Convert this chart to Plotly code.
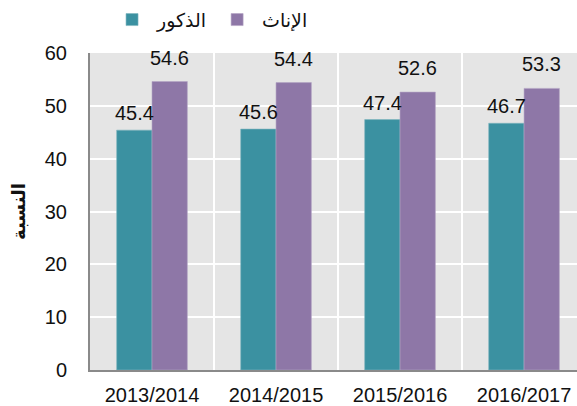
import plotly.graph_objects as go

categories = ["2013/2014", "2014/2015", "2015/2016", "2016/2017"]
males = [45.4, 45.6, 47.4, 46.7]
females = [54.6, 54.4, 52.6, 53.3]
male_name = "الذكور"
female_name = "الإناث"
y_title = "النسبة"
y_ticks = [0, 10, 20, 30, 40, 50, 60]

teal = "#3b91a1"
purple = "#8e77a7"
font_family = "Liberation Sans, Arial, DejaVu Sans, sans-serif"

fig = go.Figure()
fig.add_trace(go.Bar(x=categories, y=males, name=male_name, marker=dict(color=teal, line=dict(width=0.6, color="#7fb6c0"))))
fig.add_trace(go.Bar(x=categories, y=females, name=female_name, marker=dict(color=purple, line=dict(width=0.6, color="#b3a5c4"))))

# value labels
for cat, v in zip(categories, males):
    fig.add_annotation(x=cat, y=v, text=f"{v:.1f}", showarrow=False, xanchor="center", yanchor="bottom",
                       xshift=-17.5, yshift=4, font=dict(size=20, color="#111111", family=font_family))
for cat, v in zip(categories, females):
    fig.add_annotation(x=cat, y=v, text=f"{v:.1f}", showarrow=False, xanchor="center", yanchor="bottom",
                       xshift=17.5, yshift=11, font=dict(size=20, color="#111111", family=font_family))

fig.update_layout(
    width=577, height=406,
    margin=dict(l=90, r=0, t=53, b=36, autoexpand=False),
    barmode="group", bargap=0.43, bargroupgap=0,
    plot_bgcolor="#e5e5e5", paper_bgcolor="white",
    font=dict(family=font_family, size=20, color="#111111"),
    showlegend=True,
    legend=dict(orientation="h", x=0.035, xanchor="left", y=1.105, yanchor="middle",
                font=dict(size=19), bgcolor="rgba(0,0,0,0)", traceorder="normal",
                itemwidth=40),
)
fig.update_xaxes(type="category", range=[-0.5, 3.427], tickson="boundaries", showgrid=True,
                 gridcolor="white", gridwidth=2, showline=True, linecolor="#8a8a8a", linewidth=2,
                 ticks="", ticklabelstandoff=6, tickfont=dict(size=20), automargin=False)
fig.update_yaxes(range=[0, 60], tickvals=y_ticks, showgrid=True, gridcolor="white", gridwidth=2,
                 showline=True, linecolor="#8a8a8a", linewidth=2, zeroline=False,
                 ticks="outside", ticklen=17, tickcolor="rgba(0,0,0,0)", tickfont=dict(size=20),
                 title=dict(text=f"<b>{y_title}</b>", font=dict(size=18), standoff=14))

fig.write_html("out.html")
